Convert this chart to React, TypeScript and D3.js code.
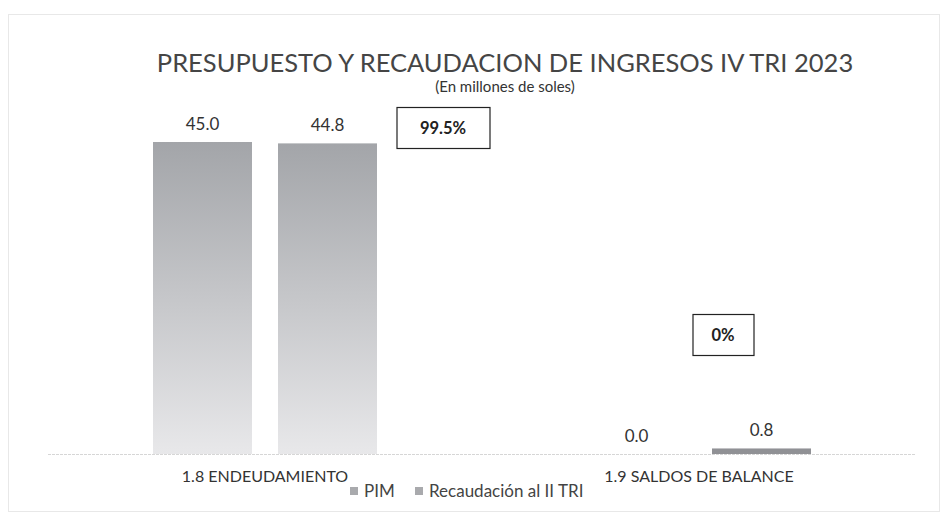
import React from 'react';
import * as d3 from 'd3';

const categories = ['1.8 ENDEUDAMIENTO', '1.9 SALDOS DE BALANCE'];
const seriesNames = ['PIM', 'Recaudación al II TRI'];
const pimValues = [45.0, 0.0];
const recaudacionValues = [44.8, 0.8];
const percentLabels = ['99.5%', '0%'];

const W = 944;
const H = 519;
const FONT = 'Lato, "Open Sans", sans-serif';

const App: React.FC = () => {
  const baseline = 454;
  const x0 = d3.scaleBand<string>().domain(categories).range([48, 916]).padding(0);
  const x1 = d3.scaleBand<string>().domain(seriesNames).range([105, 329]).paddingInner(0.208).paddingOuter(0);
  const y = d3.scaleLinear().domain([0, 45]).range([baseline, 142]);

  const series = [pimValues, recaudacionValues];

  // percent boxes placed relative to each category
  const boxOffsets = [178, 24];
  const boxY = [107, 314];
  const boxW = [93, 61];
  const boxH = 41;

  const legendX = [350, 415];

  return (
    <div style={{ position: 'absolute', left: 0, top: 0 }}>
      <svg width={W} height={H} style={{ display: 'block', background: '#fff' }}>
        <defs>
          <linearGradient id="barGrad" x1="0" y1="0" x2="0" y2="1">
            <stop offset="0%" stopColor="#a3a5a9" />
            <stop offset="100%" stopColor="#e8e8ea" />
          </linearGradient>
        </defs>
        <rect x={8.5} y={14.5} width={931} height={497} fill="none" stroke="#e8e8e8" strokeWidth={1} />

        <text x={505} y={72} textAnchor="middle" fontFamily={FONT} fontSize={25.5} fill="#454545">
          PRESUPUESTO Y RECAUDACION DE INGRESOS IV TRI 2023
        </text>
        <text x={505} y={92} textAnchor="middle" fontFamily={FONT} fontSize={15} fill="#333">
          (En millones de soles)
        </text>

        <line x1={48} x2={916} y1={baseline + 0.5} y2={baseline + 0.5} stroke="#d6d6d6" strokeWidth={1} strokeDasharray="3,1" />

        {categories.map((c, ci) => (
          <g key={c} transform={`translate(${x0(c)},0)`}>
            {seriesNames.map((s, si) => {
              const v = series[si][ci];
              const bx = x1(s)!;
              return (
                <g key={s}>
                  {v > 0 && (
                    <rect x={bx} y={y(v)} width={x1.bandwidth()} height={baseline - y(v)} fill={v < 2 ? '#909195' : 'url(#barGrad)'} />
                  )}
                  <text x={bx + x1.bandwidth() / 2} y={y(v) - 12} textAnchor="middle" fontFamily={FONT} fontSize={17} fill="#333">
                    {v.toFixed(1)}
                  </text>
                </g>
              );
            })}
            <text x={x0.bandwidth() / 2} y={482} textAnchor="middle" fontFamily={FONT} fontSize={16} fill="#333">
              {c}
            </text>
          </g>
        ))}

        {categories.map((c, ci) => {
          const bx = x0(c)! + x0.bandwidth() / 2 + boxOffsets[ci] - boxW[ci] / 2;
          return (
            <g key={'box' + c}>
              <rect x={bx + 0.5} y={boxY[ci] + 0.5} width={boxW[ci]} height={boxH} fill="#fff" stroke="#222" strokeWidth={1.2} />
              <text x={bx + boxW[ci] / 2} y={boxY[ci] + boxH / 2 + 6} textAnchor="middle" fontFamily={FONT} fontSize={16.5} fontWeight="bold" fill="#222">
                {percentLabels[ci]}
              </text>
            </g>
          );
        })}

        {seriesNames.map((s, si) => (
          <g key={'leg' + s}>
            <rect x={legendX[si]} y={487} width={8} height={8} fill="#a9aaad" />
            <text x={legendX[si] + 14} y={497} fontFamily={FONT} fontSize={17} fill="#444">
              {s}
            </text>
          </g>
        ))}
      </svg>
    </div>
  );
};

export default App;
